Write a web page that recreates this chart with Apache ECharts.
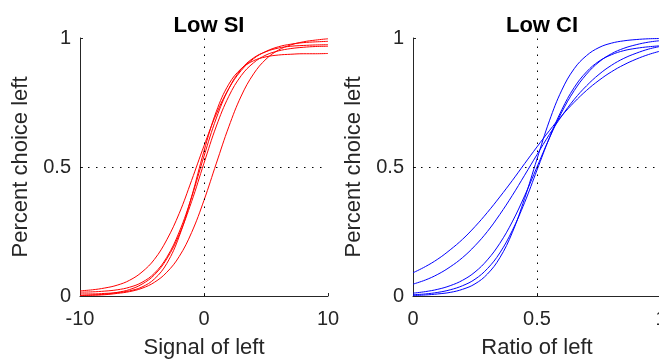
<!DOCTYPE html>
<html>
<head>
<meta charset="utf-8">
<script src="https://cdn.jsdelivr.net/npm/echarts@6/dist/echarts.min.js"></script>
<style>html,body{margin:0;padding:0;background:#fff}#c{width:659px;height:360px}</style>
</head>
<body>
<div id="c"></div>
<script>
const xLeft = [-10,-9,-8,-7,-6,-5,-4,-3,-2,-1,0,1,2,3,4,5,6,7,8,9,10];
const red1 = [0.020,0.024,0.031,0.042,0.061,0.093,0.142,0.218,0.320,0.448,0.582,0.706,0.804,0.874,0.920,0.948,0.966,0.976,0.982,0.985,0.987];
const red2 = [0.015,0.016,0.019,0.024,0.034,0.053,0.088,0.150,0.248,0.383,0.542,0.690,0.804,0.879,0.923,0.947,0.961,0.968,0.971,0.973,0.974];
const red3 = [0.008,0.008,0.010,0.013,0.020,0.035,0.066,0.126,0.231,0.385,0.562,0.716,0.821,0.881,0.912,0.927,0.934,0.937,0.939,0.939,0.940];
const red4 = [0.002,0.003,0.005,0.010,0.017,0.030,0.053,0.092,0.153,0.246,0.371,0.515,0.656,0.775,0.861,0.918,0.953,0.973,0.985,0.992,0.997];
const red5 = [0.002,0.004,0.007,0.014,0.025,0.046,0.082,0.144,0.238,0.366,0.515,0.659,0.774,0.854,0.904,0.934,0.950,0.959,0.964,0.967,0.968];

const xRight = [0,0.05,0.1,0.15,0.2,0.25,0.3,0.35,0.4,0.45,0.5,0.55,0.6,0.65,0.7,0.75,0.8,0.85,0.9,0.95,1];
const blue1 = [0.090,0.114,0.143,0.179,0.220,0.269,0.324,0.384,0.447,0.513,0.578,0.641,0.699,0.751,0.797,0.836,0.869,0.896,0.918,0.936,0.950];
const blue2 = [0.046,0.062,0.084,0.113,0.149,0.195,0.250,0.316,0.389,0.468,0.548,0.626,0.698,0.762,0.815,0.859,0.894,0.921,0.941,0.957,0.968];
const blue3 = [0.011,0.017,0.026,0.040,0.061,0.093,0.140,0.204,0.287,0.388,0.500,0.612,0.713,0.796,0.860,0.907,0.939,0.960,0.974,0.984,0.990];
const blue4 = [0.005,0.008,0.014,0.024,0.040,0.065,0.106,0.167,0.253,0.362,0.488,0.613,0.722,0.808,0.869,0.910,0.935,0.951,0.960,0.966,0.970];
const blue5 = [0.002,0.004,0.008,0.014,0.026,0.047,0.085,0.148,0.245,0.378,0.531,0.679,0.798,0.881,0.932,0.963,0.980,0.989,0.994,0.997,0.998];

const titles = ['Low SI', 'Low CI'];
const xNames = ['Signal of left', 'Ratio of left'];
const yName = 'Percent choice left';
const refX = [0, 0.5];
const refY = 0.5;

const FONT = '"Liberation Sans", Arial, Helvetica, sans-serif';
const AX = '#262626';

function pairs(xs, ys) { return xs.map((x, i) => [x, ys[i]]); }

function mkX(idx, min, max, interval) {
  return {
    gridIndex: idx, type: 'value', min: min, max: max, interval: interval,
    name: xNames[idx], nameLocation: 'middle', nameGap: 41,
    nameTextStyle: { fontSize: 22, color: AX, fontFamily: FONT },
    axisLine: { show: true, onZero: false, lineStyle: { color: AX, width: 1 } },
    axisTick: { show: true, inside: true, length: 3, lineStyle: { color: AX, width: 1 } },
    axisLabel: { fontSize: 20, color: AX, margin: 13, fontFamily: FONT },
    splitLine: { show: false }
  };
}
function mkY(idx) {
  return {
    gridIndex: idx, type: 'value', min: 0, max: 1, interval: 0.5,
    name: yName, nameLocation: 'middle', nameGap: 48,
    nameTextStyle: { fontSize: 22, color: AX, fontFamily: FONT },
    axisLine: { show: true, onZero: false, lineStyle: { color: AX, width: 1 } },
    axisTick: { show: true, inside: true, length: 3, lineStyle: { color: AX, width: 1 } },
    axisLabel: { fontSize: 20, color: AX, margin: 9, fontFamily: FONT },
    splitLine: { show: false }
  };
}
function refLines(xv) {
  return {
    silent: true, symbol: 'none', animation: false,
    label: { show: false },
    lineStyle: { color: '#000', width: 1, type: [1.5, 6.5] },
    data: [{ xAxis: xv }, { yAxis: refY }]
  };
}
function mkLine(idx, xs, ys, color, withRef) {
  const s = {
    type: 'line', xAxisIndex: idx, yAxisIndex: idx,
    data: pairs(xs, ys), smooth: 0.4, showSymbol: false, symbol: 'none',
    lineStyle: { color: color, width: 1 }, itemStyle: { color: color },
    silent: true, z: 2
  };
  if (withRef) s.markLine = refLines(refX[idx]);
  return s;
}

const reds = [red1, red2, red3, red4, red5];
const blues = [blue1, blue2, blue3, blue4, blue5];
const series = [];
reds.forEach((r, i) => series.push(mkLine(0, xLeft, r, '#ff0000', i === 0)));
blues.forEach((b, i) => series.push(mkLine(1, xRight, b, '#0000ff', i === 0)));

const chart = echarts.init(document.getElementById('c'), null, { renderer: 'canvas' });
chart.setOption({
  animation: false,
  backgroundColor: '#fff',
  textStyle: { fontFamily: FONT },
  title: [
    { text: titles[0], left: 204, top: 10, textAlign: 'center',
      textStyle: { fontSize: 22, fontWeight: 'bold', color: '#000', fontFamily: FONT } },
    { text: titles[1], left: 537, top: 10, textAlign: 'center',
      textStyle: { fontSize: 22, fontWeight: 'bold', color: '#000', fontFamily: FONT } }
  ],
  grid: [
    { left: 80, top: 38, width: 248, height: 258, containLabel: false, outerBoundsMode: 'none' },
    { left: 413, top: 38, width: 248, height: 258, containLabel: false, outerBoundsMode: 'none' }
  ],
  xAxis: [mkX(0, -10, 10, 10), mkX(1, 0, 1, 0.5)],
  yAxis: [mkY(0), mkY(1)],
  series: series
});
</script>
</body>
</html>
